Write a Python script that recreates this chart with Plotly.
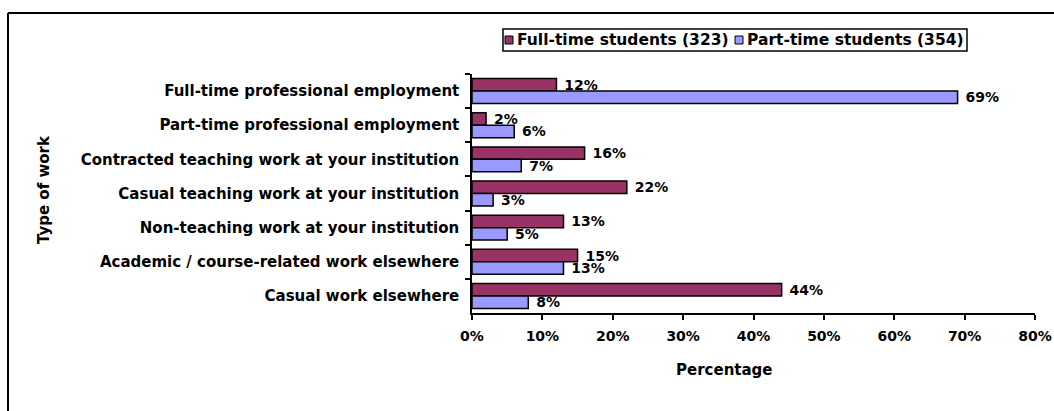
import plotly.graph_objects as go

# Survey responses: type of paid work undertaken, by enrolment mode
work_types = [
    "Full-time professional employment",
    "Part-time professional employment",
    "Contracted teaching work at your institution",
    "Casual teaching work at your institution",
    "Non-teaching work at your institution",
    "Academic / course-related work elsewhere",
    "Casual work elsewhere",
]
full_time_pct = [12, 2, 16, 22, 13, 15, 44]
part_time_pct = [69, 6, 7, 3, 5, 13, 8]
series_names = ["Full-time students (323)", "Part-time students (354)"]
series_colors = ["#993366", "#9999FF"]
x_ticks = [0, 10, 20, 30, 40, 50, 60, 70, 80]

FONT = "DejaVu Sans"

# Plot-area geometry in pixels (used to place frame, legend and titles)
W, H = 1054, 411
L, R, T, B = 472, 19, 74, 98
PW, PH = W - L - R, H - T - B


def px_x(p):
    return (p - L) / PW


def px_y(q):
    return (H - B - q) / PH


fig = go.Figure()
for name, vals, color in zip(series_names, [full_time_pct, part_time_pct], series_colors):
    fig.add_trace(go.Bar(
        name=name,
        y=work_types,
        x=vals,
        orientation="h",
        marker=dict(color=color, line=dict(color="black", width=1.5)),
        text=[f" {v}%" for v in vals],
        textposition="outside",
        constraintext="none",
        cliponaxis=False,
        textfont=dict(family=FONT, size=14, color="black", weight="bold"),
        showlegend=False,
    ))

fig.update_layout(
    width=W,
    height=H,
    margin=dict(l=L, r=R, t=T, b=B, pad=0),
    paper_bgcolor="white",
    plot_bgcolor="white",
    barmode="group",
    bargap=0.27,
    bargroupgap=0,
    font=dict(family=FONT, color="black"),
    showlegend=False,
    xaxis=dict(
        range=[0, 80],
        tickvals=x_ticks,
        ticktext=[f"{t}%" for t in x_ticks],
        automargin=False,
        showgrid=False,
        zeroline=False,
        showline=True,
        linecolor="black",
        linewidth=1.5,
        ticks="outside",
        ticklen=5,
        tickwidth=1.5,
        tickcolor="black",
        ticklabelstandoff=4,
        tickfont=dict(family=FONT, size=14, color="black", weight="bold"),
    ),
    yaxis=dict(
        autorange="reversed",
        type="category",
        automargin=False,
        showgrid=False,
        zeroline=False,
        showline=True,
        linecolor="black",
        linewidth=1.5,
        ticks="outside",
        tickson="boundaries",
        ticklen=5,
        tickwidth=1.5,
        tickcolor="black",
        ticklabelstandoff=8,
        tickfont=dict(family=FONT, size=15, color="black", weight="bold"),
    ),
)

# Axis titles
fig.add_annotation(
    text="Percentage", xref="paper", yref="paper",
    x=px_x(724), y=px_y(370), xanchor="center", yanchor="middle",
    showarrow=False,
    font=dict(family=FONT, size=15, color="black", weight="bold"),
)
fig.add_annotation(
    text="Type of work", xref="paper", yref="paper",
    x=px_x(44), y=px_y(190), xanchor="center", yanchor="middle",
    textangle=-90, showarrow=False,
    font=dict(family=FONT, size=15, color="black", weight="bold"),
)

# Legend box with a swatch and label per series
fig.add_shape(type="rect", xref="paper", yref="paper",
              x0=px_x(503), y0=px_y(29), x1=px_x(967), y1=px_y(51),
              fillcolor="white", line=dict(color="black", width=1.5))
legend_x = [505, 735]
for lx, name, color in zip(legend_x, series_names, series_colors):
    fig.add_shape(type="rect", xref="paper", yref="paper",
                  x0=px_x(lx), y0=px_y(36), x1=px_x(lx + 8), y1=px_y(44),
                  fillcolor=color, line=dict(color="black", width=1))
    fig.add_annotation(
        text=name, xref="paper", yref="paper",
        x=px_x(lx + 10), y=px_y(40), xanchor="left", yanchor="middle",
        showarrow=False,
        font=dict(family=FONT, size=15.5, color="black", weight="bold"),
    )

# Chart frame (left and top edges)
fig.add_shape(type="line", xref="paper", yref="paper",
              x0=px_x(8), y0=px_y(13), x1=px_x(8), y1=px_y(430),
              line=dict(color="black", width=2))
fig.add_shape(type="line", xref="paper", yref="paper",
              x0=px_x(8), y0=px_y(13), x1=px_x(1070), y1=px_y(13),
              line=dict(color="black", width=2))

fig.write_html("out.html")
